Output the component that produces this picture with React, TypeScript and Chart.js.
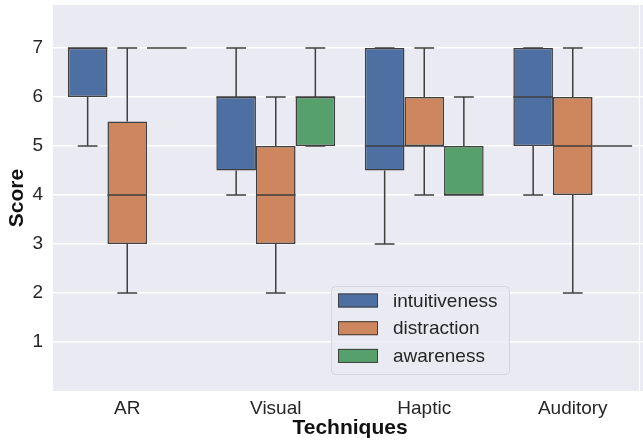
import React, { useEffect, useRef } from 'react';
import { Chart, registerables } from 'chart.js';

Chart.register(...registerables);

const categories = ['AR', 'Visual', 'Haptic', 'Auditory'];
const seriesNames = ['intuitiveness', 'distraction', 'awareness'];
const seriesColors = ['#4E6FA1', '#CD865E', '#56A06B'];
const yTicks = [1, 2, 3, 4, 5, 6, 7];

// five-number summaries per technique
const intuitivenessMin = [5, 4, 3, 4];
const intuitivenessQ1 = [6, 4.5, 4.5, 5];
const intuitivenessMedian = [7, 6, 5, 6];
const intuitivenessQ3 = [7, 6, 7, 7];
const intuitivenessMax = [7, 7, 7, 7];

const distractionMin = [2, 2, 4, 2];
const distractionQ1 = [3, 3, 5, 4];
const distractionMedian = [4, 4, 5, 5];
const distractionQ3 = [5.5, 5, 6, 6];
const distractionMax = [7, 6, 7, 7];

const awarenessMin = [7, 5, 4, 5];
const awarenessQ1 = [7, 5, 4, 5];
const awarenessMedian = [7, 6, 4, 5];
const awarenessQ3 = [7, 6, 5, 5];
const awarenessMax = [7, 7, 6, 5];

const stats = [
  { min: intuitivenessMin, q1: intuitivenessQ1, med: intuitivenessMedian, q3: intuitivenessQ3, max: intuitivenessMax },
  { min: distractionMin, q1: distractionQ1, med: distractionMedian, q3: distractionQ3, max: distractionMax },
  { min: awarenessMin, q1: awarenessQ1, med: awarenessMedian, q3: awarenessQ3, max: awarenessMax },
];

const FONT = "'Liberation Sans', Arial, sans-serif";
const LINE = '#3f3f3f';
const BG = '#EAEAF2';

const boxPlugin = {
  id: 'boxWhiskers',
  beforeDraw(chart: any) {
    const { ctx, chartArea } = chart;
    const { left, top, right, bottom } = chartArea;
    ctx.save();
    ctx.fillStyle = BG;
    ctx.fillRect(left, top, right - left, bottom - top);
    ctx.restore();
  },
  afterDatasetsDraw(chart: any) {
    const { ctx } = chart;
    const y = chart.scales.y;
    ctx.save();
    ctx.strokeStyle = LINE;
    ctx.lineWidth = 1.5;
    ctx.lineCap = 'butt';
    chart.data.datasets.forEach((_ds: any, i: number) => {
      const meta = chart.getDatasetMeta(i);
      const st = stats[i];
      meta.data.forEach((bar: any, j: number) => {
        const { x, width } = bar.getProps(['x', 'width'], true);
        const half = width / 2;
        const yMin = y.getPixelForValue(st.min[j]);
        const yQ1 = y.getPixelForValue(st.q1[j]);
        const yMed = y.getPixelForValue(st.med[j]);
        const yQ3 = y.getPixelForValue(st.q3[j]);
        const yMax = y.getPixelForValue(st.max[j]);
        ctx.beginPath();
        // whiskers
        ctx.moveTo(x, yQ3);
        ctx.lineTo(x, yMax);
        ctx.moveTo(x, yQ1);
        ctx.lineTo(x, yMin);
        // caps
        ctx.moveTo(x - half / 2, yMax);
        ctx.lineTo(x + half / 2, yMax);
        ctx.moveTo(x - half / 2, yMin);
        ctx.lineTo(x + half / 2, yMin);
        // median
        ctx.moveTo(x - half, yMed);
        ctx.lineTo(x + half, yMed);
        ctx.stroke();
      });
    });
    ctx.restore();
  },
  afterDraw(chart: any) {
    const { ctx, chartArea } = chart;
    const x = chart.scales.x;
    // thin white frame line near the right edge
    const edgeX = Math.round(x.getPixelForValue(3.443)) + 0.5;
    ctx.save();
    ctx.strokeStyle = '#ffffff';
    ctx.lineWidth = 1.2;
    ctx.beginPath();
    ctx.moveTo(edgeX, chartArea.top);
    ctx.lineTo(edgeX, chartArea.bottom);
    ctx.stroke();

    // legend
    const lx = chartArea.left + 278;
    const ly = chartArea.top + 281;
    const lw = 178;
    const lh = 88;
    ctx.beginPath();
    ctx.roundRect(lx + 0.5, ly + 0.5, lw, lh, 4);
    ctx.fillStyle = 'rgba(234,234,242,0.8)';
    ctx.fill();
    ctx.strokeStyle = '#d4d4dc';
    ctx.lineWidth = 1;
    ctx.stroke();
    ctx.font = `19px ${FONT}`;
    ctx.textBaseline = 'middle';
    ctx.textAlign = 'left';
    chart.data.datasets.forEach((ds: any, i: number) => {
      const cy = ly + 14.5 + i * 27.7;
      ctx.fillStyle = ds.backgroundColor;
      ctx.fillRect(lx + 7, cy - 7, 40, 14);
      ctx.strokeStyle = LINE;
      ctx.lineWidth = 1;
      ctx.strokeRect(lx + 7.5, cy - 6.5, 39, 13);
      ctx.fillStyle = '#262626';
      ctx.fillText(ds.label, lx + 62, cy + 1);
    });
    ctx.restore();
  },
};

export default function App() {
  const ref = useRef<HTMLCanvasElement>(null);

  useEffect(() => {
    if (!ref.current) return;
    const datasets = seriesNames.map((name, i) => ({
      label: name,
      data: stats[i].q1.map((q, j) => [q, stats[i].q3[j]]),
      backgroundColor: seriesColors[i],
      borderColor: LINE,
      borderWidth: 1.5,
      borderSkipped: false,
      categoryPercentage: 0.8,
      barPercentage: 1.0,
    }));
    const chart = new Chart(ref.current, {
      type: 'bar',
      data: { labels: categories, datasets },
      plugins: [boxPlugin],
      options: {
        animation: false,
        responsive: false,
        devicePixelRatio: 1,
        layout: { padding: { top: 5, right: 1, left: 0, bottom: 0 } },
        plugins: { legend: { display: false }, tooltip: { enabled: false } },
        scales: {
          x: {
            type: 'category',
            offset: true,
            grid: { display: false, drawTicks: false },
            border: { display: false },
            ticks: { font: { family: FONT, size: 19 }, color: '#262626', padding: 6 },
            title: {
              display: true,
              text: 'Techniques',
              font: { family: FONT, size: 21, weight: 'bold' },
              color: '#111',
              padding: { top: 0, bottom: 0 },
            },
            afterFit: (s: any) => {
              s.height = 50;
              s.paddingLeft = 0;
              s.paddingRight = 0;
            },
          },
          y: {
            min: 0,
            max: 7.88,
            grid: { color: '#ffffff', lineWidth: 1.5, drawTicks: false },
            border: { display: false },
            ticks: { font: { family: FONT, size: 19 }, color: '#262626', padding: 10 },
            afterBuildTicks: (s: any) => { s.ticks = yTicks.map((v) => ({ value: v })); },
            title: {
              display: true,
              text: 'Score',
              font: { family: FONT, size: 21, weight: 'bold' },
              color: '#111',
              padding: { top: 5, bottom: 0 },
            },
            afterFit: (s: any) => {
              s.width = 53;
              s.paddingTop = 0;
              s.paddingBottom = 0;
            },
          },
        },
      } as any,
    });
    return () => chart.destroy();
  }, []);

  return (
    <div style={{ position: 'fixed', left: 0, top: 0, width: 643, height: 441, overflow: 'hidden', background: '#fff' }}>
      <canvas ref={ref} width={648} height={441} style={{ display: 'block', width: 648, height: 441 }} />
    </div>
  );
}
